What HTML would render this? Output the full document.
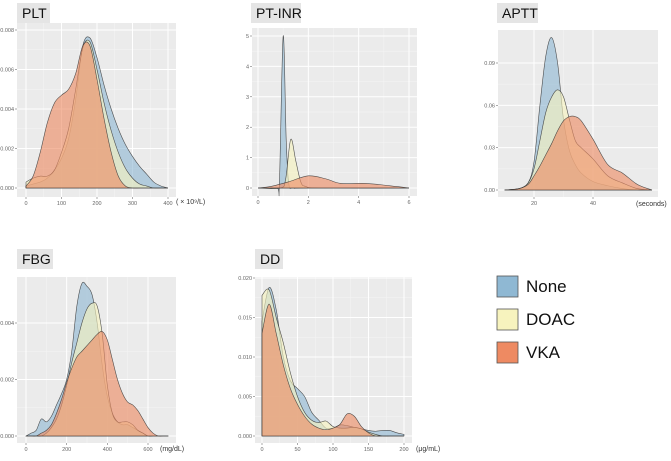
<!DOCTYPE html>
<html><head><meta charset="utf-8">
<style>
html,body{margin:0;padding:0;background:#fff;}
body{width:671px;height:456px;overflow:hidden;font-family:"Liberation Sans",sans-serif;}
svg text{font-family:"Liberation Sans",sans-serif;}
</style></head>
<body>
<svg id="chart" width="671" height="456" viewBox="0 0 671 456" xmlns="http://www.w3.org/2000/svg"></svg>
<script>
// ---------- data ----------
const seriesNames = ["None", "DOAC", "VKA"];
const pltX = [0,20,40,60,80,100,120,140,160,180,200,220,240,260,280,300,320,340,360,380,400];
const pltNone = [0.0001,0.0002,0.0003,0.0005,0.0009,0.0015,0.0025,0.0045,0.0072,0.0076,0.0066,0.0052,0.0040,0.0030,0.0022,0.0016,0.0011,0.0007,0.0003,0.0001,0];
const pltDoac = [0.0003,0.0005,0.0006,0.0006,0.0009,0.0018,0.0030,0.0050,0.0071,0.0074,0.0060,0.0043,0.0029,0.0018,0.0010,0.0005,0.0002,0.0001,0,0,0];
const pltVka = [0.0001,0.0006,0.0018,0.0033,0.0043,0.0047,0.0050,0.0058,0.0072,0.0072,0.0055,0.0035,0.0018,0.0006,0.0001,0,0,0,0,0,0];
const pltYTicks = [0,0.002,0.004,0.006,0.008];
const pltXTicks = [0,100,200,300,400];

const inrXNone = [0,0.75,0.85,1.0,1.12,1.22,1.4,2,6];
const inrNone = [0,0,0.15,5,1.6,0.15,0,0,0];
const inrXDoac = [0,0.9,1.1,1.3,1.5,1.7,1.9,2.5,6];
const inrDoac = [0,0,0.3,1.6,0.9,0.2,0.05,0,0];
const inrXVka = [0,0.5,1.2,2,2.7,3.3,4.3,5.5,6];
const inrVka = [0,0.05,0.2,0.4,0.3,0.15,0.15,0.05,0];
const inrYTicks = [0,1,2,3,4,5];
const inrXTicks = [0,2,4,6];

const apttX = [10,15,18,20,22,24,26,28,30,32,34,36,40,45,50,55,60];
const apttNone = [0,0.001,0.005,0.02,0.06,0.095,0.108,0.09,0.05,0.028,0.018,0.012,0.006,0.003,0.001,0,0];
const apttDoac = [0,0.001,0.005,0.015,0.035,0.055,0.066,0.071,0.066,0.05,0.035,0.03,0.022,0.010,0.005,0.001,0];
const apttVka = [0,0.001,0.004,0.010,0.017,0.025,0.033,0.042,0.049,0.052,0.052,0.049,0.036,0.018,0.012,0.004,0];
const apttYTicks = [0,0.03,0.06,0.09];
const apttXTicks = [20,40];

const fbgX = [0,25,50,75,100,125,150,175,200,225,250,275,300,325,350,375,400,425,450,475,500,525,550,575,600,625,650,675,700];
const fbgNone = [0,0.0001,0.0002,0.0006,0.0005,0.0007,0.0011,0.0015,0.0020,0.0030,0.0046,0.0054,0.0053,0.0050,0.0040,0.0025,0.0014,0.0008,0.0005,0.0004,0.0004,0.0003,0.0002,0.0001,0,0,0,0,0];
const fbgDoac = [0,0,0,0,0.0001,0.0003,0.0006,0.0011,0.0018,0.0026,0.0033,0.0040,0.0045,0.0047,0.0046,0.0036,0.0018,0.0008,0.0005,0.0005,0.0005,0.0004,0.0002,0.0001,0,0,0,0,0];
const fbgVka = [0,0,0,0.0001,0.0002,0.0004,0.0008,0.0013,0.0019,0.0024,0.0028,0.0030,0.0032,0.0034,0.0036,0.0037,0.0034,0.0027,0.0020,0.0015,0.0012,0.0011,0.0009,0.0006,0.0003,0.0001,0,0,0];
const fbgYTicks = [0,0.002,0.004];
const fbgXTicks = [0,200,400,600];

const ddX = [0,10,20,30,40,50,60,70,80,90,100,110,120,130,140,150,160,170,180,190,200];
const ddNone = [0.0145,0.0188,0.0160,0.0100,0.0070,0.0060,0.0050,0.0030,0.0020,0.0010,0.0010,0.0014,0.0013,0.0011,0.0009,0.0007,0.0006,0.0007,0.0007,0.0004,0.0002];
const ddDoac = [0.0178,0.0185,0.0150,0.0118,0.0080,0.0050,0.0030,0.0020,0.0017,0.0019,0.0012,0.0010,0.0010,0.0011,0.0009,0.0005,0.0002,0,0,0,0];
const ddVka = [0.0130,0.0167,0.0130,0.0090,0.0060,0.0040,0.0025,0.0015,0.0010,0.0008,0.0010,0.0015,0.0028,0.0025,0.0012,0.0004,0,0,0,0,0];
const ddYTicks = [0,0.005,0.010,0.015,0.020];
const ddXTicks = [0,50,100,150,200];

const colors = ["#8fb8d3","#f7f3be","#ee8a62"];
const NS = "http://www.w3.org/2000/svg";
const svg = document.getElementById("chart");

function mk(tag, attrs, parent){
  const e = document.createElementNS(NS, tag);
  for (const k in attrs) e.setAttribute(k, attrs[k]);
  (parent||svg).appendChild(e);
  return e;
}
function smoothPath(pts){
  let d = "M"+pts[0][0]+","+pts[0][1];
  for (let i=0;i<pts.length-1;i++){
    const p0=pts[Math.max(0,i-1)],p1=pts[i],p2=pts[i+1],p3=pts[Math.min(pts.length-1,i+2)];
    const c1=[p1[0]+(p2[0]-p0[0])/6,p1[1]+(p2[1]-p0[1])/6];
    const c2=[p2[0]-(p3[0]-p1[0])/6,p2[1]-(p3[1]-p1[1])/6];
    d+=" C"+c1[0]+","+c1[1]+" "+c2[0]+","+c2[1]+" "+p2[0]+","+p2[1];
  }
  return d;
}

function panel(cfg){
  const g = mk("g",{});
  
  
  const sx = v => cfg.px0 + (v-cfg.x0)/(cfg.x1-cfg.x0)*(cfg.px1-cfg.px0);
  const sy = v => cfg.py0 + (v-cfg.y0)/(cfg.y1-cfg.y0)*(cfg.py1-cfg.py0);
  const tb = mk("rect",{x:cfg.tx,y:cfg.ty,width:cfg.tw,height:20,fill:"#e5e5e5"},g);
  
  
  const tt = mk("text",{x:cfg.tx+5,y:cfg.ty+15,"font-size":"14",fill:"#111"},g);
  tt.textContent = cfg.title;
  
  
  const bg = mk("rect",{x:cfg.bx0,y:cfg.by0,width:cfg.bx1-cfg.bx0,height:cfg.by1-cfg.by0,fill:"#ebebeb"},g);
  
  
  for (let i=0;i<cfg.xt.length-1;i++){
    const m = sx((cfg.xt[i]+cfg.xt[i+1])/2);
    mk("line",{x1:m,x2:m,y1:cfg.by0,y2:cfg.by1,stroke:"#f5f5f5","stroke-width":0.5},g);
  }
  for (let i=0;i<cfg.yt.length-1;i++){
    const m = sy((cfg.yt[i]+cfg.yt[i+1])/2);
    mk("line",{x1:cfg.bx0,x2:cfg.bx1,y1:m,y2:m,stroke:"#f5f5f5","stroke-width":0.5},g);
  }
  cfg.xt.forEach(v=>{
    const x=sx(v);
    mk("line",{x1:x,x2:x,y1:cfg.by0,y2:cfg.by1,stroke:"#fff","stroke-width":1},g);
    mk("line",{x1:x,x2:x,y1:cfg.by1,y2:cfg.by1+2,stroke:"#555","stroke-width":0.5},g);
    const t=mk("text",{x:x,y:cfg.by1+8,"font-size":"5.5",fill:"#666","text-anchor":"middle"},g);
    t.textContent = cfg.xfmt(v);
    
    
  });
  cfg.yt.forEach(v=>{
    const y=sy(v);
    mk("line",{x1:cfg.bx0,x2:cfg.bx1,y1:y,y2:y,stroke:"#fff","stroke-width":1},g);
    mk("line",{x1:cfg.bx0-2,x2:cfg.bx0,y1:y,y2:y,stroke:"#555","stroke-width":0.5},g);
    const t=mk("text",{x:cfg.bx0-3,y:y+2,"font-size":"5.5",fill:"#666","text-anchor":"end"},g);
    t.textContent = cfg.yfmt(v);
    
    
  });
  cfg.series.forEach((s,i)=>{
    const pts = s.x.map((xv,j)=>[sx(xv), sy(s.y[j])]);
    const base = sy(0);
    const d = smoothPath(pts)+" L"+pts[pts.length-1][0]+","+base+" L"+pts[0][0]+","+base+" Z";
    const p = mk("path",{d:d,fill:colors[i],"fill-opacity":0.62,stroke:"#333","stroke-width":0.6,"stroke-opacity":0.85},g);
    
    
  });
  if (cfg.unit){
    const u = mk("text",{x:cfg.ux,y:cfg.uy,"font-size":"7",fill:"#333"},g);
    u.textContent = cfg.unit;
    
    
  }
}
const f3 = v => v.toFixed(3);
const f2 = v => v.toFixed(2);
const f0 = v => String(v);

panel({name:"plt",title:"PLT",tx:17,ty:3,tw:33,bx0:17,bx1:176,by0:23,by1:197,
  x0:0,x1:400,px0:26,px1:168,y0:0,y1:0.008,py0:188,py1:30,xt:pltXTicks,yt:pltYTicks,xfmt:f0,yfmt:f3,
  series:[{x:pltX,y:pltNone},{x:pltX,y:pltDoac},{x:pltX,y:pltVka}],unit:"( × 10⁹/L)",ux:176,uy:204});
panel({name:"pt-inr",title:"PT-INR",tx:251,ty:3,tw:50,bx0:252,bx1:417,by0:28,by1:196,
  x0:0,x1:6,px0:258,px1:409,y0:0,y1:5,py0:188,py1:36,xt:inrXTicks,yt:inrYTicks,xfmt:f0,yfmt:f0,
  series:[{x:inrXNone,y:inrNone},{x:inrXDoac,y:inrDoac},{x:inrXVka,y:inrVka}]});
panel({name:"aptt",title:"APTT",tx:497,ty:3,tw:41,bx0:498,bx1:658,by0:30,by1:197,
  x0:20,x1:40,px0:534,px1:593,y0:0,y1:0.09,py0:190,py1:63,xt:apttXTicks,yt:apttYTicks,xfmt:f0,yfmt:f2,
  series:[{x:apttX,y:apttNone},{x:apttX,y:apttDoac},{x:apttX,y:apttVka}],unit:"(seconds)",ux:636,uy:206});
panel({name:"fbg",title:"FBG",tx:17,ty:249,tw:36,bx0:17,bx1:176,by0:277,by1:443,
  x0:0,x1:600,px0:26,px1:148,y0:0,y1:0.004,py0:436,py1:323,xt:fbgXTicks,yt:fbgYTicks,xfmt:f0,yfmt:f3,
  series:[{x:fbgX,y:fbgNone},{x:fbgX,y:fbgDoac},{x:fbgX,y:fbgVka}],unit:"(mg/dL)",ux:160,uy:451});
panel({name:"dd",title:"DD",tx:255,ty:249,tw:28,bx0:255,bx1:412,by0:277,by1:443,
  x0:0,x1:200,px0:262,px1:404,y0:0,y1:0.02,py0:436,py1:278,xt:ddXTicks,yt:ddYTicks,xfmt:f0,yfmt:f3,
  series:[{x:ddX,y:ddNone},{x:ddX,y:ddDoac},{x:ddX,y:ddVka}],unit:"(μg/mL)",ux:416,uy:451});

const lg = mk("g",{});


const legY = [276,309,342];
seriesNames.forEach((n,i)=>{
  const r = mk("rect",{x:497,y:legY[i],width:21,height:21,fill:colors[i],stroke:"#555","stroke-width":0.8},lg);
  
  
  const t = mk("text",{x:526,y:legY[i]+16,"font-size":"17",fill:"#111"},lg);
  t.textContent = n;
  
  
});
</script>
</body></html>
